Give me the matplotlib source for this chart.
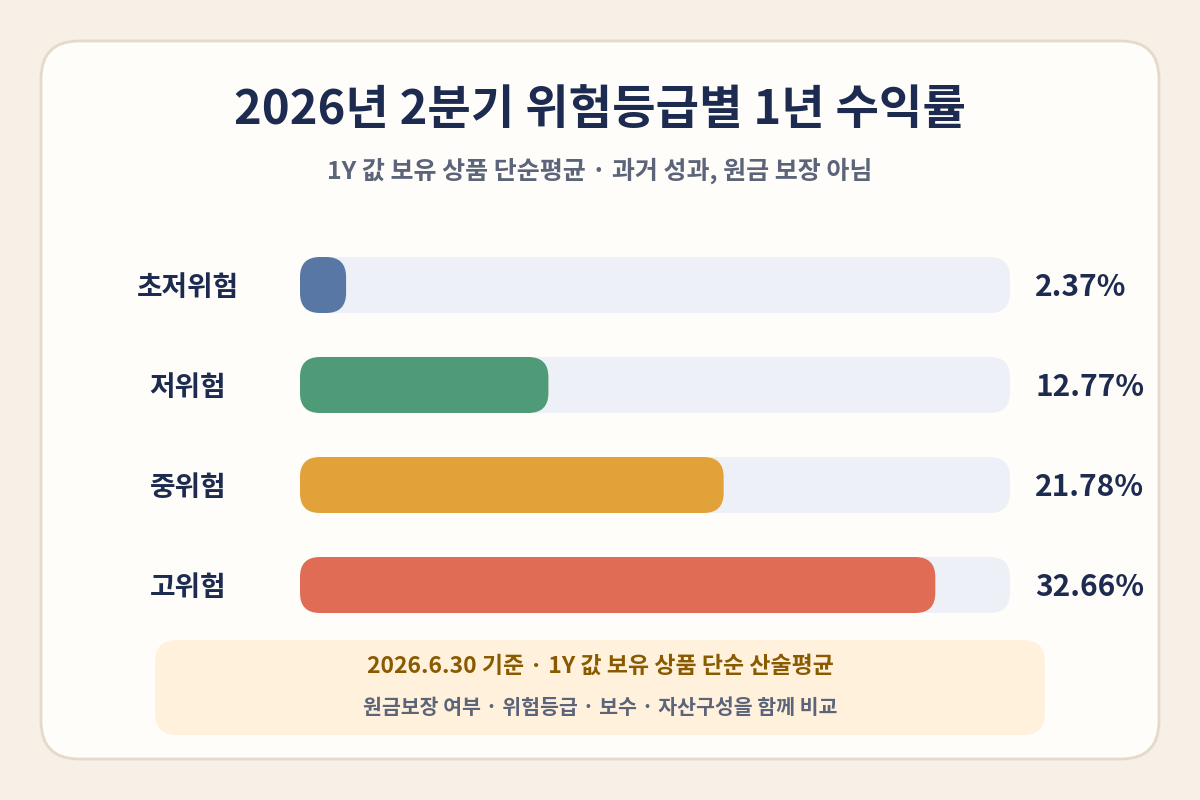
import matplotlib
matplotlib.use('Agg')
import matplotlib.pyplot as plt
from matplotlib.patches import FancyBboxPatch

plt.rcParams['font.family'] = ['Noto Sans CJK KR', 'DejaVu Sans']

# 데이터
categories = ['초저위험', '저위험', '중위험', '고위험']
returns = [2.37, 12.77, 21.78, 32.66]
labels = ['2.37%', '12.77%', '21.78%', '32.66%']
colors = ['#5877a5', '#4f9b78', '#e2a23a', '#e06c56']
track_max = 36.5

title = '2026년 2분기 위험등급별 1년 수익률'
subtitle = '1Y 값 보유 상품 단순평균 · 과거 성과, 원금 보장 아님'
note1 = '2026.6.30 기준 · 1Y 값 보유 상품 단순 산술평균'
note2 = '원금보장 여부 · 위험등급 · 보수 · 자산구성을 함께 비교'

navy = '#1c2b4f'
gray = '#5b6478'

W, H = 1200, 800
fig = plt.figure(figsize=(12, 8), dpi=100)
fig.patch.set_facecolor('#f7f0e6')

# 배경 카드 (픽셀 좌표)
bg = fig.add_axes([0, 0, 1, 1])
bg.set_xlim(0, W)
bg.set_ylim(H, 0)
bg.axis('off')
bg.add_patch(FancyBboxPatch((41, 41), 1118, 718, boxstyle='round,pad=0,rounding_size=38',
                            fc='#fffdf9', ec='#e3dacb', lw=2))
bg.text(600, 110, title, ha='center', va='center', fontsize=34, fontweight='heavy', color=navy)
bg.text(600, 171, subtitle, ha='center', va='center', fontsize=18, fontweight='bold', color=gray)

# 하단 안내 박스
bg.add_patch(FancyBboxPatch((155, 640), 890, 95, boxstyle='round,pad=0,rounding_size=22',
                            fc='#fff1dc', ec='none'))
bg.text(600, 666, note1, ha='center', va='center', fontsize=16.5, fontweight='bold', color='#8a5a00')
bg.text(600, 708, note2, ha='center', va='center', fontsize=14.8, fontweight='bold', color=gray)

# 막대 영역
left_px, right_px = 300, 1010
top_px, bot_px = 235, 635
ax = fig.add_axes([left_px / W, (H - bot_px) / H, (right_px - left_px) / W, (bot_px - top_px) / H])
ax.set_xlim(0, track_max)
ax.set_ylim(len(categories) - 0.5, -0.5)
ax.axis('off')

px_x = (right_px - left_px) / track_max      # px per x unit
px_y = (bot_px - top_px) / len(categories)   # px per y unit
aspect = px_x / px_y
bar_h = 0.56
rad_px = 20

for i, (cat, v, lab, c) in enumerate(zip(categories, returns, labels, colors)):
    ax.add_patch(FancyBboxPatch((0, i - bar_h / 2), track_max, bar_h,
                                boxstyle=f'round,pad=0,rounding_size={rad_px / px_x}',
                                mutation_aspect=aspect, fc='#edf1f7', ec='none', clip_on=False))
    r = min(rad_px / px_x, v / 2)
    ax.add_patch(FancyBboxPatch((0, i - bar_h / 2), v, bar_h,
                                boxstyle=f'round,pad=0,rounding_size={r}',
                                mutation_aspect=aspect, fc=c, ec='none', clip_on=False))
    ax.text(-112 / px_x, i + 0.03, cat, ha='center', va='center', fontsize=20, fontweight='heavy', color=navy)
    ax.text(track_max + 25 / px_x, i + 0.02, lab, ha='left', va='center', fontsize=21.5, fontweight='heavy', color=navy)

fig.savefig('out.png', dpi=100, facecolor=fig.get_facecolor())
